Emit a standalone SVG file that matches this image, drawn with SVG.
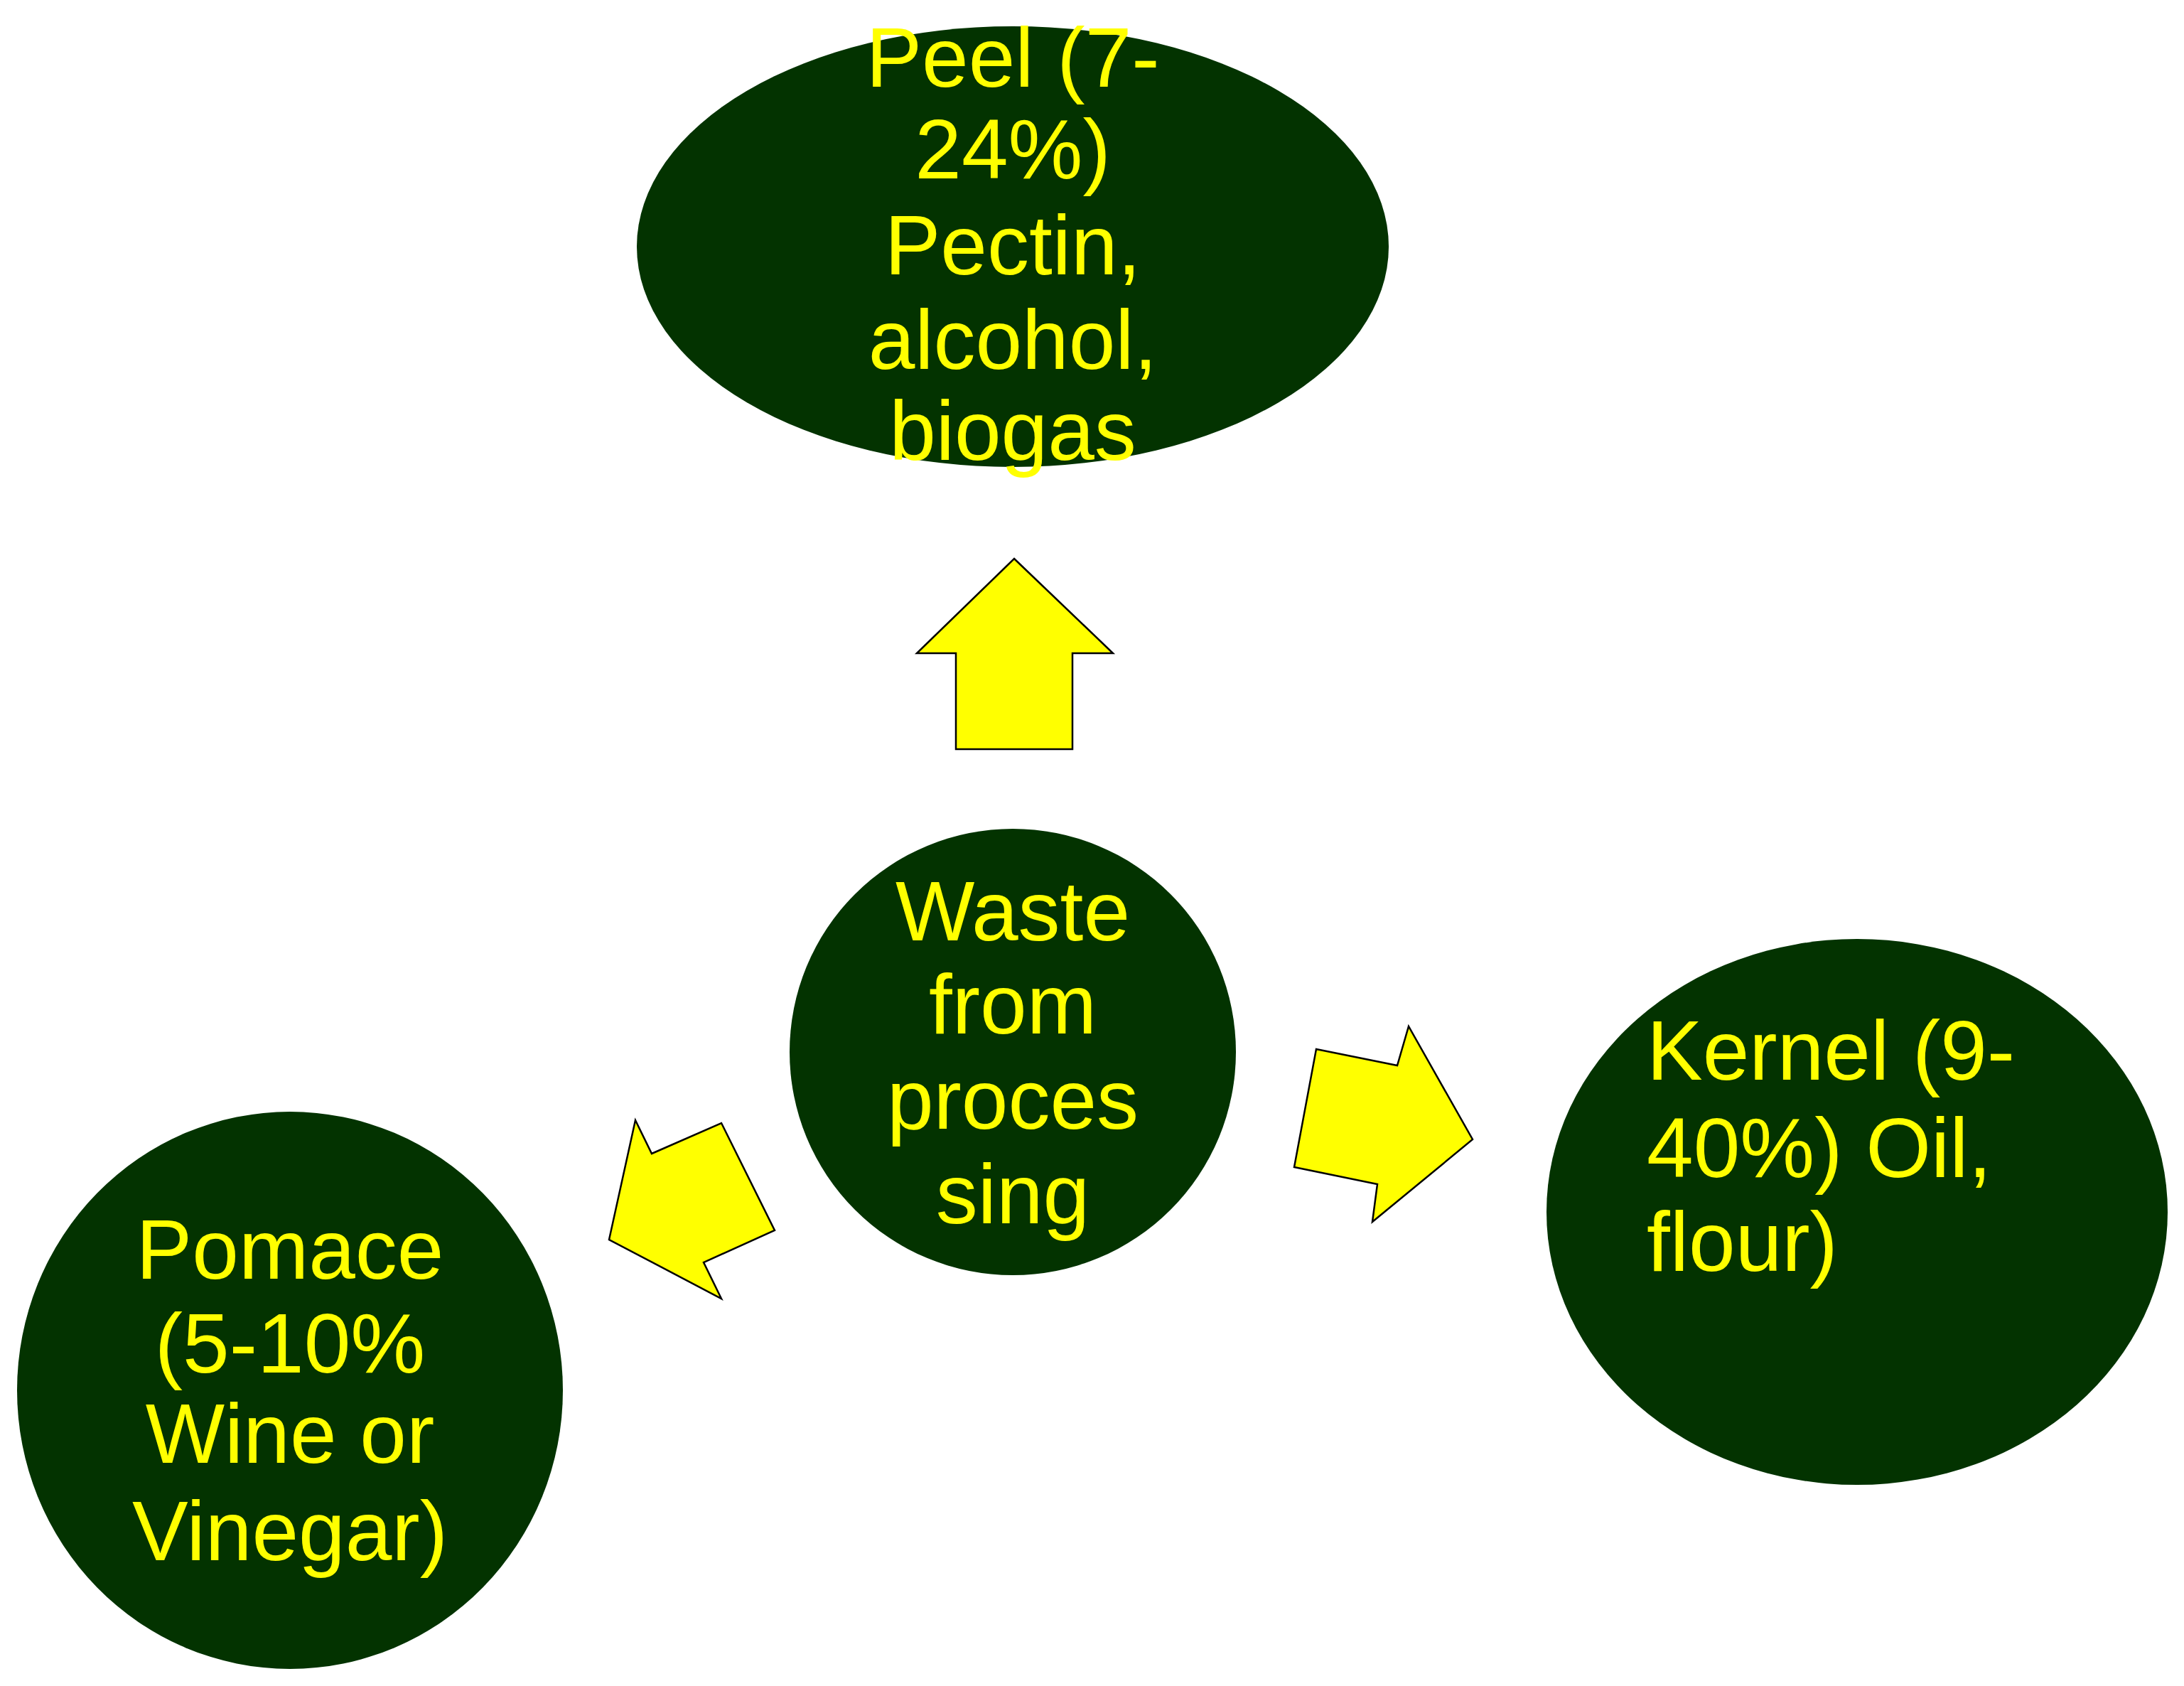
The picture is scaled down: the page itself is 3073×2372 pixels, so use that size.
<svg xmlns="http://www.w3.org/2000/svg" width="3073" height="2372" viewBox="0 0 3073 2372">
<style>
.n{fill:#033300}
.t{font-family:"Liberation Sans",Arial,sans-serif;font-size:118px;fill:#ffff00}
.c{text-anchor:middle}
.a{fill:#ffff00;stroke:#000;stroke-width:2.5}
</style>
<rect width="3073" height="2372" fill="#fff"/>
<g id="connectors">
<polygon class="a" points="1427,786 1566,919 1509,919 1509,1054 1345,1054 1345,919 1290,919"/>
<polygon class="a" points="1852,1476 1966,1499 1982,1444 2072,1603 1931,1719 1938,1666 1821,1642"/>
<polygon class="a" points="894,1576 917,1623 1015,1580 1090,1731 990,1776 1015,1827 857,1744"/>
</g>
<g id="peel">
<ellipse class="n" cx="1425" cy="347" rx="529" ry="310"/>
<text class="t c" x="1425"><tspan x="1425" y="122">Peel (7-</tspan><tspan x="1425" y="251">24%)</tspan><tspan x="1425" y="386">Pectin,</tspan><tspan x="1425" y="519">alcohol,</tspan><tspan x="1425" y="647">biogas</tspan></text>
</g>
<g id="waste">
<circle class="n" cx="1425" cy="1480" r="314"/>
<text class="t c"><tspan x="1425" y="1323">Waste</tspan><tspan x="1425" y="1454">from</tspan><tspan x="1425" y="1588">proces</tspan><tspan x="1425" y="1721">sing</tspan></text>
</g>
<g id="kernel">
<ellipse class="n" cx="2613" cy="1705" rx="437" ry="384"/>
<text class="t"><tspan x="2317" y="1519">Kernel (9-</tspan><tspan x="2317" y="1656">40%) Oil,</tspan><tspan x="2317" y="1788">flour)</tspan></text>
</g>
<g id="pomace">
<ellipse class="n" cx="408" cy="1956" rx="384" ry="392"/>
<text class="t c"><tspan x="408" y="1799">Pomace</tspan><tspan x="408" y="1931">(5-10%</tspan><tspan x="408" y="2058">Wine or</tspan><tspan x="408" y="2195">Vinegar)</tspan></text>
</g>
</svg>
